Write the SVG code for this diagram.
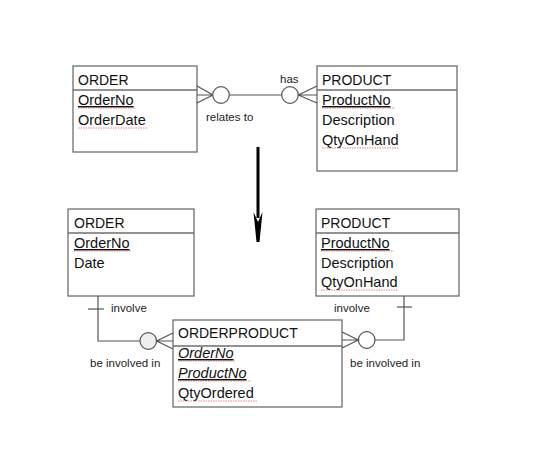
<svg xmlns="http://www.w3.org/2000/svg" width="541" height="449" viewBox="0 0 541 449">
<style>
.box{fill:#fff;stroke:#6e6e6e;stroke-width:1.3}
.sep{stroke:#6e6e6e;stroke-width:1.3}
.t{font-family:"Liberation Sans",Arial,sans-serif;font-size:14.5px;fill:#111}
.h{font-size:14px}
.k{text-decoration:underline}
.i{font-style:italic}
.lab{font-family:"Liberation Sans",Arial,sans-serif;font-size:11.5px;fill:#222}
.ln{stroke:#555;stroke-width:1.2;fill:none}
.c{fill:#fff;stroke:#555;stroke-width:1.2}
.cg{fill:#efefef;stroke:#555;stroke-width:1.2}
.sq{stroke:#d04040;stroke-width:0.8;stroke-dasharray:1.5 1;fill:none;opacity:0.8}
</style>
<rect width="541" height="449" fill="#fff"/>

<g id="order1">
<rect class="box" x="73" y="66" width="124" height="86"/>
<line class="sep" x1="73" y1="90" x2="197" y2="90"/>
<text class="t h" x="78" y="85">ORDER</text>
<text class="t k" x="78" y="105">OrderNo</text>
<line class="sq" x1="78" y1="108" x2="135" y2="108"/>
<text class="t" x="78" y="125">OrderDate</text>
<line class="sq" x1="78" y1="128" x2="148" y2="128"/>
</g>

<g id="product1">
<rect class="box" x="317" y="66" width="140" height="105"/>
<line class="sep" x1="317" y1="90" x2="457" y2="90"/>
<text class="t h" x="322" y="85">PRODUCT</text>
<text class="t k" x="322" y="105">ProductNo</text>
<line class="sq" x1="322" y1="108" x2="395" y2="108"/>
<text class="t" x="322" y="125">Description</text>
<text class="t" x="322" y="145">QtyOnHand</text>
<line class="sq" x1="322" y1="148" x2="399" y2="148"/>
</g>

<g id="order2">
<rect class="box" x="68" y="209" width="126" height="87"/>
<line class="sep" x1="68" y1="233" x2="194" y2="233"/>
<text class="t h" x="74" y="228">ORDER</text>
<text class="t k" x="74" y="248">OrderNo</text>
<line class="sq" x1="74" y1="251" x2="131" y2="251"/>
<text class="t" x="74" y="268">Date</text>
</g>

<g id="product2">
<rect class="box" x="316" y="209" width="143" height="87"/>
<line class="sep" x1="316" y1="233" x2="459" y2="233"/>
<text class="t h" x="321" y="228">PRODUCT</text>
<text class="t k" x="321" y="248">ProductNo</text>
<line class="sq" x1="321" y1="251" x2="394" y2="251"/>
<text class="t" x="321" y="268">Description</text>
<text class="t" x="321" y="287">QtyOnHand</text>
<line class="sq" x1="321" y1="290" x2="398" y2="290"/>
</g>

<g id="orderproduct">
<rect class="box" x="173" y="320" width="169" height="87"/>
<line class="sep" x1="173" y1="346" x2="342" y2="346"/>
<text class="t h" x="178" y="338">ORDERPRODUCT</text>
<text class="t k i" x="178" y="358">OrderNo</text>
<line class="sq" x1="178" y1="361" x2="235" y2="361"/>
<text class="t k i" x="178" y="378">ProductNo</text>
<line class="sq" x1="178" y1="381" x2="251" y2="381"/>
<text class="t" x="178" y="398">QtyOrdered</text>
<line class="sq" x1="178" y1="401" x2="258" y2="401"/>
</g>

<g id="connectors">
<path class="ln" d="M197 86 L213 95 L197 103 M197 95 L213 95"/>
<circle class="c" cx="221" cy="95" r="8.3"/>
<line class="ln" x1="229.3" y1="95" x2="281.7" y2="95"/>
<circle class="c" cx="290" cy="95" r="8.3"/>
<path class="ln" d="M317 86 L298.3 95 L317 103 M298.3 95 L317 95"/>
<text class="lab" x="206" y="121">relates to</text>
<text class="lab" x="280" y="83">has</text>

<line x1="258" y1="147" x2="258" y2="218" stroke="#000" stroke-width="3"/>
<path d="M253.5 212 L258 222 L262.5 212 L259.5 242 L258 242 L256.5 242 Z" fill="#000"/>

<path class="ln" d="M98 296 L98 341 L140 341"/>
<line class="ln" x1="88" y1="309" x2="104" y2="309"/>
<circle class="cg" cx="148.3" cy="341" r="8.3"/>
<path class="ln" d="M173 333 L156.6 341 L173 349 M156.6 341 L173 341"/>
<text class="lab" x="111" y="312">involve</text>
<text class="lab" x="90" y="367">be involved in</text>

<path class="ln" d="M404 296 L404 340 L375 340"/>
<line class="ln" x1="397" y1="307" x2="412" y2="307"/>
<circle class="c" cx="366.7" cy="340" r="8.3"/>
<path class="ln" d="M342 332 L358.4 340 L342 348 M342 340 L358.4 340"/>
<text class="lab" x="334" y="312">involve</text>
<text class="lab" x="350" y="367">be involved in</text>
</g>
</svg>
